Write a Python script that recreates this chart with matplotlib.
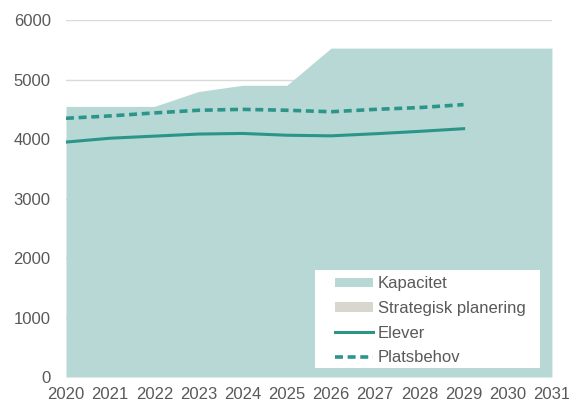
import numpy as np
from matplotlib import pyplot as plt
from matplotlib.patches import Patch, Rectangle
from matplotlib.lines import Line2D

years = [2020, 2021, 2022, 2023, 2024, 2025, 2026, 2027, 2028, 2029, 2030, 2031]
kapacitet = [4550, 4550, 4550, 4800, 4905, 4905, 5530, 5530, 5530, 5530, 5530, 5530]
strategisk = [0, 0, 0, 0, 0, 0, 0, 0, 0, 0, 0, 0]

line_years = [2020, 2021, 2022, 2023, 2024, 2025, 2026, 2027, 2028, 2029]
elever = [3950, 4015, 4050, 4085, 4095, 4065, 4055, 4090, 4130, 4175]
platsbehov = [4350, 4390, 4440, 4485, 4500, 4485, 4460, 4500, 4530, 4580]

area_color = "#b7d8d5"
strat_color = "#d9d6cf"
line_color = "#2b958a"
text_color = "#595959"

plt.rcParams['font.family'] = ['Liberation Sans', 'DejaVu Sans']

fig = plt.figure(figsize=(5.69, 4.03), dpi=100)
ax = fig.add_axes([0.116, 0.0645, 0.854, 0.8855])

ax.fill_between(years, 0, kapacitet, color=area_color, linewidth=0, zorder=2)
ax.fill_between(years, kapacitet, np.array(kapacitet) + np.array(strategisk),
                color=strat_color, linewidth=0, zorder=2)
ax.plot(line_years, elever, color=line_color, linewidth=2.2, zorder=3)
ax.plot(line_years, platsbehov, color=line_color, linewidth=2.6,
        linestyle=(0, (2.2, 1.3)), zorder=3)

ax.set_xlim(2020, 2031)
ax.set_ylim(0, 6000)
ax.set_xticks(years)
ax.set_yticks(range(0, 6001, 1000))
ax.yaxis.grid(True, color="#d9d9d9", linewidth=1, zorder=0)
ax.set_axisbelow(True)
for s in ax.spines.values():
    s.set_visible(False)
ax.tick_params(length=0, labelsize=12, colors=text_color)
ax.tick_params(axis='y', pad=11)
ax.tick_params(axis='x', pad=7)

# white box behind the legend
ax.add_patch(Rectangle((0.512, 0.025), 0.463, 0.275, transform=ax.transAxes,
                       facecolor='white', edgecolor='none', zorder=4))

handles = [
    Patch(facecolor=area_color, edgecolor='none'),
    Patch(facecolor=strat_color, edgecolor='none'),
    Line2D([], [], color=line_color, linewidth=2.2),
    Line2D([], [], color=line_color, linewidth=2.6, linestyle=(0, (2.2, 1.3))),
]
labels = ["Kapacitet", "Strategisk planering", "Elever", "Platsbehov"]
leg = ax.legend(handles, labels, loc='upper left', bbox_to_anchor=(0.553, 0.282),
                frameon=False, fontsize=12, labelcolor=text_color,
                handlelength=2.3, handleheight=0.5, handletextpad=0.3,
                labelspacing=0.58, borderpad=0, borderaxespad=0)
leg.set_zorder(5)

fig.savefig("out.png", dpi=100)
